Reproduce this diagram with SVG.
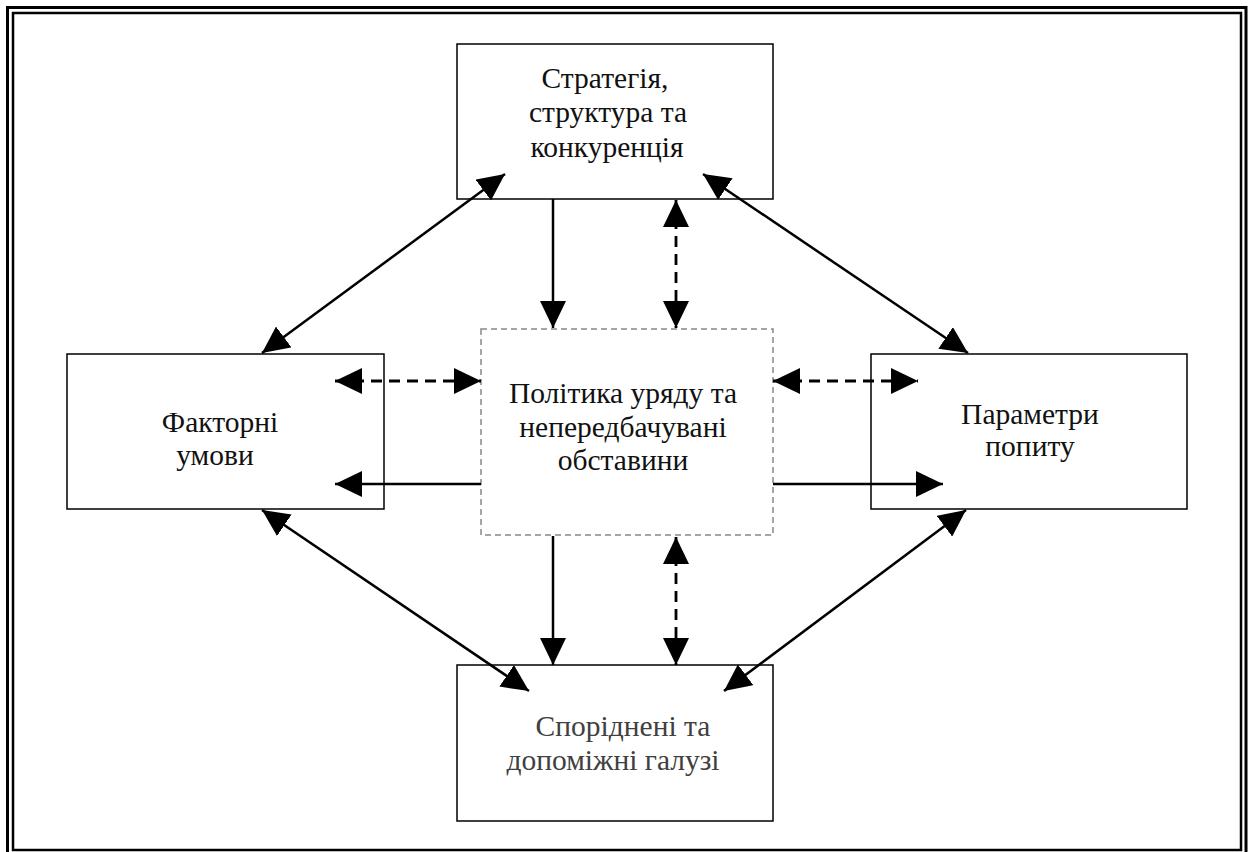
<svg xmlns="http://www.w3.org/2000/svg" width="1249" height="852" viewBox="0 0 1249 852">
<style>
.box{fill:#fff;stroke:#000;stroke-width:1.5}
.dbox{fill:#fff;stroke:#888;stroke-width:1.5;stroke-dasharray:6 4}
.t{font-family:"Liberation Serif","Times New Roman",serif;font-size:29.5px;fill:#111;text-anchor:middle}
.g{fill:#404040}
.s{stroke:#000;stroke-width:2.5;fill:none}
.d{stroke:#000;stroke-width:2.8;fill:none;stroke-dasharray:11 7}
</style>
<defs>
<marker id="ah" markerUnits="userSpaceOnUse" markerWidth="28" markerHeight="26" refX="27" refY="13" orient="auto-start-reverse">
<path d="M0,0 L27,13 L0,26 z" fill="#000"/>
</marker>
</defs>
<rect x="7.5" y="7.5" width="1238.5" height="850" fill="none" stroke="#000" stroke-width="3"/>
<rect x="13" y="13" width="1228" height="837" fill="none" stroke="#000" stroke-width="2.5"/>
<g id="node-top">
<rect class="box" x="457" y="44" width="316" height="155"/>
<text class="t" x="605" y="88">Стратегія,</text>
<text class="t" x="608" y="122">структура та</text>
<text class="t" x="607" y="157">конкуренція</text>
</g>
<g id="node-left">
<rect class="box" x="67" y="354" width="317" height="155"/>
<text class="t" x="220" y="432">Факторні</text>
<text class="t" x="215" y="465">умови</text>
</g>
<g id="node-right">
<rect class="box" x="871" y="354" width="316" height="155"/>
<text class="t" x="1030" y="424">Параметри</text>
<text class="t" x="1030" y="456">попиту</text>
</g>
<g id="node-center">
<rect class="dbox" x="481" y="329" width="292" height="206"/>
<text class="t" x="623" y="403">Політика уряду та</text>
<text class="t" x="623" y="437">непередбачувані</text>
<text class="t" x="623" y="470">обставини</text>
</g>
<g id="node-bottom">
<rect class="box" x="457" y="665" width="316" height="156"/>
<text class="t g" x="623" y="736">Споріднені та</text>
<text class="t g" x="613" y="770">допоміжні галузі</text>
</g>
<g id="connectors">
<line class="s" x1="505" y1="174" x2="262" y2="353" marker-start="url(#ah)" marker-end="url(#ah)"/>
<line class="s" x1="703" y1="174" x2="968" y2="353" marker-start="url(#ah)" marker-end="url(#ah)"/>
<line class="s" x1="262" y1="510" x2="529" y2="691" marker-start="url(#ah)" marker-end="url(#ah)"/>
<line class="s" x1="966" y1="510" x2="724" y2="691" marker-start="url(#ah)" marker-end="url(#ah)"/>
<line class="s" x1="553" y1="199" x2="553" y2="328" marker-end="url(#ah)"/>
<line class="d" x1="676" y1="200" x2="676" y2="328" marker-start="url(#ah)" marker-end="url(#ah)"/>
<line class="s" x1="553" y1="536" x2="553" y2="665" marker-end="url(#ah)"/>
<line class="d" x1="676" y1="537" x2="676" y2="665" marker-start="url(#ah)" marker-end="url(#ah)"/>
<line class="d" x1="335" y1="381" x2="481" y2="381" marker-start="url(#ah)" marker-end="url(#ah)"/>
<line class="s" x1="481" y1="484" x2="335" y2="484" marker-end="url(#ah)"/>
<line class="d" x1="773" y1="381" x2="918" y2="381" marker-start="url(#ah)" marker-end="url(#ah)"/>
<line class="s" x1="773" y1="484" x2="943" y2="484" marker-end="url(#ah)"/>
</g>
</svg>
